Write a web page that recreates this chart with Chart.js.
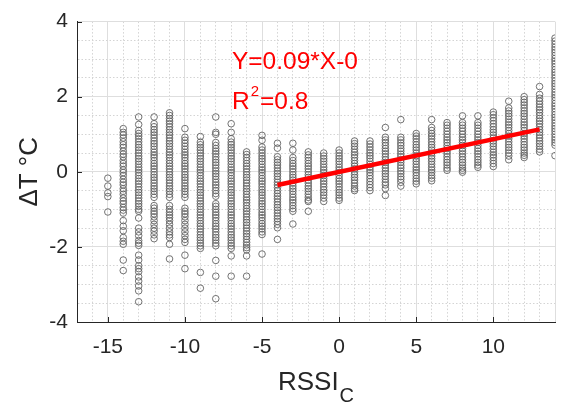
<!DOCTYPE html>
<html>
<head>
<meta charset="utf-8">
<script src="https://cdn.jsdelivr.net/npm/chart.js@4.4.1/dist/chart.umd.min.js"></script>
<style>
html,body{margin:0;padding:0;background:#fff;}
#wrap{width:568px;height:405px;}
</style>
</head>
<body>
<div id="wrap"><canvas id="c" width="568" height="405"></canvas></div>
<script>
// ---- data (RSSI_C columns and ΔT values) ----
const dT_m15 = [-0.17,-0.38,-0.56,-0.66,-1.07];
const dT_m14 = [1.15,1.05,0.98,0.9,0.8,0.72,0.65,0.55,0.47,0.4,0.3,0.22,0.15,0.05,-0.02,-0.1,-0.2,-0.28,-0.35,-0.45,-0.52,-0.6,-0.7,-0.78,-0.85,-0.95,-1.02,-1.1,-1.3,-1.45,-1.57,-1.75,-1.85,-1.93,-2.35,-2.63];
const dT_m13 = [1.46,1.26,1.1,1.02,0.95,0.88,0.8,0.72,0.65,0.58,0.5,0.42,0.35,0.28,0.2,0.12,0.05,-0.02,-0.1,-0.18,-0.25,-0.32,-0.4,-0.48,-0.55,-0.62,-0.7,-0.78,-0.85,-0.92,-1.0,-1.05,-1.23,-1.5,-1.6,-1.7,-1.83,-1.9,-1.96,-2.22,-2.35,-2.5,-2.58,-2.66,-2.8,-2.91,-3.04,-3.17,-3.46];
const dT_m12 = [1.46,1.28,1.2,1.12,1.05,0.98,0.9,0.82,0.75,0.68,0.6,0.52,0.45,0.38,0.3,0.22,0.15,0.08,0.0,-0.08,-0.15,-0.22,-0.3,-0.38,-0.45,-0.52,-0.6,-0.68,-0.9,-0.97,-1.05,-1.12,-1.2,-1.3,-1.4,-1.5,-1.58,-1.68,-1.78];
const dT_m11 = [1.57,1.5,1.42,1.35,1.28,1.2,1.12,1.05,0.98,0.9,0.82,0.75,0.68,0.6,0.52,0.45,0.38,0.3,0.22,0.15,0.08,0.0,-0.08,-0.15,-0.22,-0.3,-0.38,-0.45,-0.52,-0.6,-0.68,-0.9,-1.0,-1.08,-1.15,-1.22,-1.3,-1.4,-1.5,-1.6,-1.68,-1.75,-1.93,-2.32];
const dT_m10 = [1.15,0.92,0.84,0.76,0.68,0.6,0.52,0.45,0.38,0.3,0.22,0.15,0.08,0.0,-0.08,-0.15,-0.22,-0.3,-0.38,-0.45,-0.52,-0.6,-0.68,-0.97,-1.05,-1.12,-1.2,-1.3,-1.4,-1.5,-1.6,-1.7,-1.8,-1.88,-2.22,-2.58];
const dT_m9 = [0.94,0.79,0.72,0.65,0.58,0.5,0.42,0.35,0.28,0.2,0.12,0.05,-0.02,-0.1,-0.18,-0.25,-0.32,-0.4,-0.48,-0.55,-0.62,-0.7,-0.78,-0.85,-0.92,-1.0,-1.08,-1.15,-1.22,-1.3,-1.38,-1.45,-1.52,-1.6,-1.68,-1.75,-1.82,-1.9,-1.97,-2.04,-2.68,-3.1];
const dT_m8 = [1.46,1.05,1.0,0.78,0.7,0.62,0.55,0.48,0.4,0.32,0.25,0.18,0.1,0.02,-0.05,-0.12,-0.2,-0.28,-0.35,-0.42,-0.5,-0.58,-0.65,-0.85,-0.92,-1.0,-1.08,-1.15,-1.22,-1.3,-1.38,-1.45,-1.52,-1.6,-1.68,-1.75,-1.82,-1.9,-1.97,-2.36,-2.78,-3.38];
const dT_m7 = [1.28,1.05,0.88,0.79,0.72,0.65,0.58,0.5,0.42,0.35,0.28,0.2,0.12,0.05,-0.02,-0.1,-0.18,-0.25,-0.32,-0.4,-0.48,-0.55,-0.62,-0.7,-0.78,-0.85,-0.92,-1.0,-1.08,-1.15,-1.22,-1.3,-1.38,-1.45,-1.52,-1.6,-1.68,-1.75,-1.82,-1.9,-1.97,-2.04,-2.24,-2.78];
const dT_m6 = [0.53,0.46,0.38,0.3,0.22,0.15,0.08,0.0,-0.08,-0.15,-0.22,-0.3,-0.38,-0.45,-0.52,-0.6,-0.68,-0.75,-0.82,-0.9,-0.98,-1.05,-1.12,-1.2,-1.28,-1.35,-1.42,-1.5,-1.58,-1.65,-1.72,-1.8,-1.88,-1.95,-2.02,-2.08,-2.24,-2.78];
const dT_m5 = [0.97,0.84,0.66,0.58,0.5,0.42,0.35,0.28,0.2,0.12,0.05,-0.02,-0.1,-0.18,-0.25,-0.32,-0.4,-0.48,-0.55,-0.62,-0.7,-0.78,-0.85,-0.92,-1.0,-1.08,-1.15,-1.22,-1.3,-1.38,-1.45,-1.52,-1.6,-1.67,-2.19];
const dT_m4 = [0.76,0.63,0.4,0.32,0.25,0.18,0.1,0.02,-0.05,-0.12,-0.2,-0.28,-0.35,-0.42,-0.5,-0.58,-0.65,-0.72,-0.8,-0.88,-0.95,-1.02,-1.1,-1.18,-1.25,-1.32,-1.4,-1.49,-1.8];
const dT_m3 = [0.76,0.58,0.38,0.3,0.22,0.15,0.08,0.0,-0.08,-0.15,-0.22,-0.3,-0.38,-0.45,-0.52,-0.6,-0.68,-0.75,-0.82,-0.9,-0.98,-1.05,-1.39];
const dT_m2 = [0.53,0.45,0.38,0.3,0.22,0.15,0.08,0.0,-0.08,-0.15,-0.22,-0.3,-0.38,-0.45,-0.52,-0.6,-0.68,-0.75,-0.79,-1.05];
const dT_m1 = [0.5,0.42,0.35,0.28,0.2,0.12,0.05,-0.02,-0.1,-0.18,-0.25,-0.32,-0.4,-0.48,-0.55,-0.62,-0.7,-0.79];
const dT_0 = [0.58,0.5,0.42,0.35,0.28,0.2,0.12,0.05,-0.02,-0.1,-0.18,-0.25,-0.32,-0.4,-0.48,-0.55,-0.62,-0.7,-0.76];
const dT_1 = [0.82,0.75,0.68,0.6,0.52,0.45,0.38,0.3,0.22,0.15,0.08,0.0,-0.08,-0.15,-0.22,-0.3,-0.38,-0.45,-0.5];
const dT_2 = [0.82,0.74,0.66,0.58,0.5,0.43,0.36,0.28,0.2,0.12,0.05,-0.02,-0.1,-0.18,-0.26,-0.34,-0.42,-0.5];
const dT_3 = [1.18,0.92,0.85,0.78,0.7,0.62,0.55,0.48,0.4,0.32,0.25,0.18,0.1,0.02,-0.05,-0.12,-0.2,-0.28,-0.35,-0.45,-0.63];
const dT_4 = [1.39,0.92,0.85,0.77,0.7,0.62,0.55,0.47,0.4,0.32,0.25,0.17,0.1,0.02,-0.05,-0.13,-0.2,-0.28,-0.38];
const dT_5 = [1.02,0.95,0.88,0.8,0.72,0.65,0.58,0.5,0.42,0.35,0.28,0.2,0.12,0.05,-0.02,-0.1,-0.18,-0.25,-0.32];
const dT_6 = [1.39,1.18,1.1,1.02,0.95,0.88,0.8,0.72,0.65,0.58,0.5,0.42,0.35,0.28,0.2,0.12,0.05,-0.02,-0.1,-0.17,-0.24];
const dT_7 = [1.31,1.24,1.16,1.08,1.0,0.92,0.85,0.78,0.7,0.62,0.55,0.48,0.4,0.32,0.25,0.18,0.1,0.04];
const dT_8 = [1.49,1.31,1.24,1.16,1.08,1.0,0.92,0.85,0.78,0.7,0.62,0.55,0.48,0.4,0.32,0.25,0.18,0.1,0.04,-0.01];
const dT_9 = [1.49,1.31,1.24,1.16,1.08,1.0,0.92,0.85,0.78,0.7,0.62,0.55,0.48,0.4,0.32,0.25,0.18,0.12];
const dT_10 = [1.59,1.52,1.44,1.36,1.28,1.2,1.12,1.05,0.98,0.9,0.82,0.75,0.68,0.6,0.52,0.45,0.38,0.3,0.22,0.14];
const dT_11 = [1.88,1.7,1.62,1.55,1.48,1.4,1.32,1.25,1.18,1.1,1.02,0.95,0.88,0.8,0.72,0.65,0.58,0.5,0.42,0.32];
const dT_12 = [2.0,1.92,1.85,1.78,1.7,1.62,1.55,1.48,1.4,1.32,1.25,1.18,1.1,1.02,0.95,0.88,0.8,0.72,0.65,0.58,0.5,0.44,0.38];
const dT_13 = [2.27,2.06,1.96,1.88,1.8,1.72,1.65,1.58,1.5,1.42,1.35,1.28,1.2,1.12,1.05,0.98,0.9,0.82,0.75,0.68,0.6,0.53];
const dT_14 = [3.56,3.48,3.4,3.32,3.25,3.18,3.1,3.02,2.95,2.88,2.8,2.72,2.65,2.58,2.5,2.42,2.35,2.28,2.2,2.12,2.05,1.98,1.9,1.82,1.75,1.68,1.6,1.52,1.45,1.38,1.3,1.22,1.15,1.08,1.0,0.92,0.85,0.78,0.71,0.43];

const rssiValues = [-15,-14,-13,-12,-11,-10,-9,-8,-7,-6,-5,-4,-3,-2,-1,0,1,2,3,4,5,6,7,8,9,10,11,12,13,14];
const dTColumns = [dT_m15,dT_m14,dT_m13,dT_m12,dT_m11,dT_m10,dT_m9,dT_m8,dT_m7,dT_m6,dT_m5,dT_m4,dT_m3,dT_m2,dT_m1,dT_0,dT_1,dT_2,dT_3,dT_4,dT_5,dT_6,dT_7,dT_8,dT_9,dT_10,dT_11,dT_12,dT_13,dT_14];

// linear fit line
const fitX = [-4, 13];
const fitY = [-0.35, 1.13];

// axis ranges / ticks
const xMin = -17, xMax = 14, xMajorStep = 5;
const yMin = -4, yMax = 4, yMajorStep = 2;
const xLabels = [-15,-10,-5,0,5,10];
const yLabels = [-4,-2,0,2,4];

// texts
const xTitleMain = 'RSSI', xTitleSub = 'C';
const yTitle = 'ΔT °C';
const eqText = 'Y=0.09*X-0';
const r2Main = 'R', r2Sup = '2', r2Rest = '=0.8';
const eqAnchor = {x: -6.95, y: 2.73};
const r2Anchor = {x: -6.95, y: 1.68};

// ---- build ----
const points = [];
rssiValues.forEach((r, i) => dTColumns[i].forEach(v => points.push({x: r, y: v})));
const fitPoints = fitX.map((x, i) => ({x, y: fitY[i]}));

const FONT = "'Liberation Sans', Arial, Helvetica, sans-serif";
const AXIS_COLOR = '#262626';

function isMajorX(v){ return Math.abs(v % xMajorStep) < 1e-9 || v === xMin || v === xMax; }
function isMajorY(v){ return Math.abs(v % yMajorStep) < 1e-9; }

const overlay = {
  id: 'overlay',
  beforeDatasetsDraw(chart){
    const {ctx, chartArea, scales} = chart;
    ctx.save();
    ctx.strokeStyle = AXIS_COLOR;
    ctx.lineWidth = 1;
    ctx.beginPath();
    xLabels.forEach(v => {
      const px = Math.round(scales.x.getPixelForValue(v)) + 0.5;
      ctx.moveTo(px, chartArea.bottom);
      ctx.lineTo(px, chartArea.bottom - 5);
    });
    yLabels.forEach(v => {
      const py = Math.round(scales.y.getPixelForValue(v)) + 0.5;
      ctx.moveTo(chartArea.left, py);
      ctx.lineTo(chartArea.left + 5, py);
    });
    ctx.stroke();
    ctx.restore();
  },
  afterDraw(chart){
    const {ctx, chartArea, scales} = chart;
    ctx.save();
    // x title with subscript
    ctx.fillStyle = AXIS_COLOR;
    ctx.textBaseline = 'alphabetic';
    ctx.textAlign = 'left';
    ctx.font = '26px ' + FONT;
    const wMain = ctx.measureText(xTitleMain).width;
    ctx.font = '20px ' + FONT;
    const wSub = ctx.measureText(xTitleSub).width;
    const cx = (chartArea.left + chartArea.right) / 2;
    const startX = cx - (wMain + wSub + 1) / 2;
    ctx.font = '26px ' + FONT;
    ctx.fillText(xTitleMain, startX, 390);
    ctx.font = '20px ' + FONT;
    ctx.fillText(xTitleSub, startX + wMain + 1, 402);
    // y title rotated
    ctx.save();
    ctx.translate(37, (chartArea.top + chartArea.bottom) / 2);
    ctx.rotate(-Math.PI / 2);
    ctx.textAlign = 'center';
    ctx.font = '26px ' + FONT;
    ctx.fillText(yTitle, 0, 0);
    ctx.restore();
    // annotation
    ctx.fillStyle = '#ff0000';
    ctx.textAlign = 'left';
    ctx.font = '24.5px ' + FONT;
    const ex = scales.x.getPixelForValue(eqAnchor.x);
    const ey = scales.y.getPixelForValue(eqAnchor.y);
    ctx.fillText(eqText, ex, ey);
    const rx = scales.x.getPixelForValue(r2Anchor.x);
    const ry = scales.y.getPixelForValue(r2Anchor.y);
    ctx.fillText(r2Main, rx, ry);
    const wR = ctx.measureText(r2Main).width;
    ctx.font = '15px ' + FONT;
    ctx.fillText(r2Sup, rx + wR + 1, ry - 12.5);
    const wS = ctx.measureText(r2Sup).width;
    ctx.font = '24.5px ' + FONT;
    ctx.fillText(r2Rest, rx + wR + wS + 2, ry);
    ctx.restore();
  }
};

new Chart(document.getElementById('c'), {
  type: 'scatter',
  data: {
    datasets: [
      {
        type: 'line',
        data: fitPoints,
        borderColor: '#ff0000',
        borderWidth: 4.5,
        pointRadius: 0,
        fill: false,
        tension: 0
      },
      {
        data: points,
        pointStyle: 'circle',
        pointRadius: 3.3,
        pointHoverRadius: 3.3,
        borderWidth: 1,
        borderColor: 'rgba(100,100,100,0.9)',
        backgroundColor: 'rgba(0,0,0,0)'
      }
    ]
  },
  options: {
    responsive: false,
    animation: false,
    devicePixelRatio: 1,
    layout: {padding: {left: 0, right: 10, top: 13, bottom: 0}},
    plugins: {legend: {display: false}, tooltip: {enabled: false}},
    scales: {
      x: {
        type: 'linear',
        min: xMin, max: xMax,
        afterFit(s){ s.height = 83; },
        afterBuildTicks(s){
          const t = [];
          for (let v = xMin; v <= xMax; v++) t.push({value: v});
          s.ticks = t;
        },
        ticks: {
          autoSkip: false,
          maxRotation: 0,
          padding: 13,
          color: AXIS_COLOR,
          font: {family: FONT, size: 21},
          callback: v => xLabels.includes(v) ? String(v) : ''
        },
        grid: {
          drawTicks: false,
          lineWidth: 1,
          color: c => (c.tick && isMajorX(c.tick.value)) ? '#dedede' : '#d4d4d4'
        },
        border: {
          display: true, color: AXIS_COLOR, width: 1,
          dash: c => (c.tick && !isMajorX(c.tick.value)) ? [1.5, 2] : []
        }
      },
      y: {
        type: 'linear',
        min: yMin, max: yMax,
        afterFit(s){ s.width = 77; },
        afterBuildTicks(s){
          const t = [];
          for (let v = yMin; v <= yMax + 1e-9; v += 0.5) t.push({value: Math.round(v * 10) / 10});
          s.ticks = t;
        },
        ticks: {
          autoSkip: false,
          padding: 9,
          color: AXIS_COLOR,
          font: {family: FONT, size: 21},
          callback: v => yLabels.includes(v) ? String(v) : ''
        },
        grid: {
          drawTicks: false,
          lineWidth: 1,
          color: c => (c.tick && isMajorY(c.tick.value)) ? '#dedede' : '#d4d4d4'
        },
        border: {
          display: true, color: AXIS_COLOR, width: 1,
          dash: c => (c.tick && !isMajorY(c.tick.value)) ? [1.5, 2] : []
        }
      }
    }
  },
  plugins: [overlay]
});
</script>
</body>
</html>
